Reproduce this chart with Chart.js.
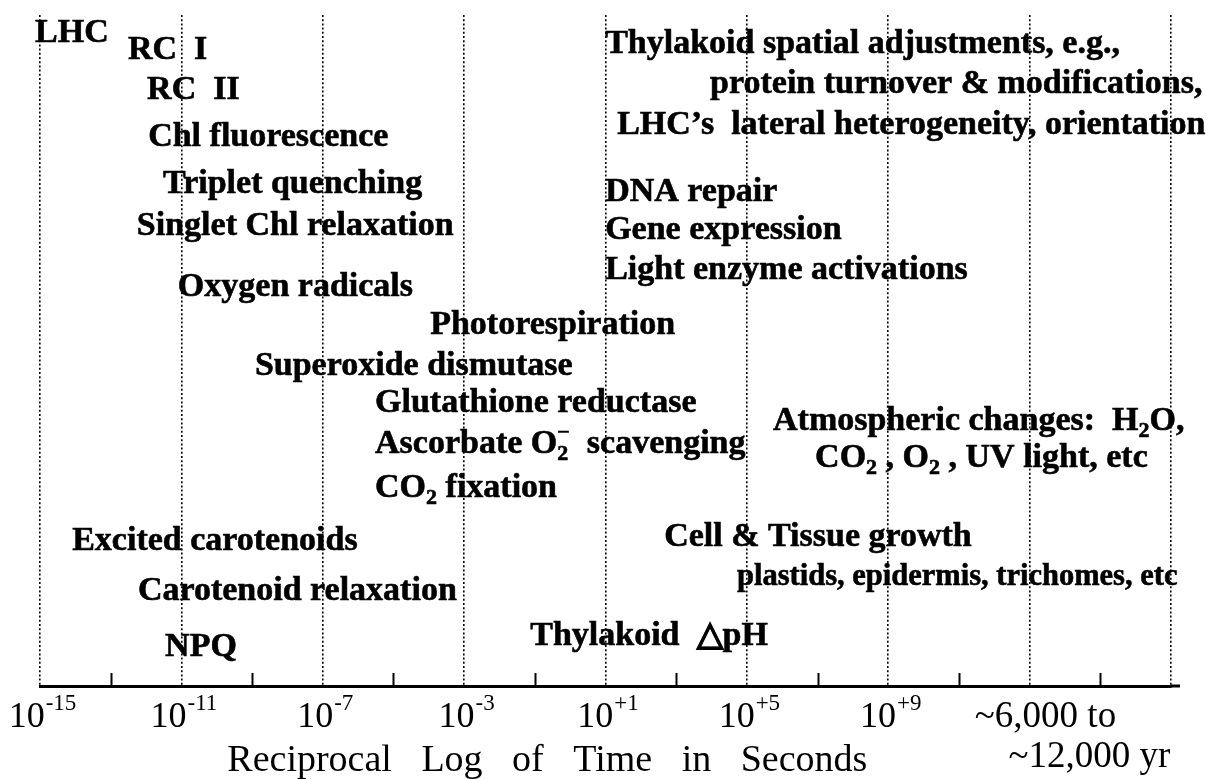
<!DOCTYPE html>
<html>
<head>
<meta charset="utf-8">
<script src="https://cdn.jsdelivr.net/npm/chart.js@4.4.1/dist/chart.umd.min.js"></script>
<style>
  html, body { margin: 0; padding: 0; background: #fff; }
</style>
</head>
<body>
<canvas id="chart" width="1224" height="780"></canvas>
<script>
// x = log10 of time in seconds (left edge of each label), y = row from top (0) down to the axis (100)
// "_" marks a subscript char, "^" a superscript char
const processNames = [
  'LHC', 'RC  I', 'RC  II', 'Chl fluorescence', 'Triplet quenching',
  'Singlet Chl relaxation', 'Oxygen radicals', 'Photorespiration', 'Superoxide dismutase',
  'Glutathione reductase', 'Ascorbate O_2^\u2212  scavenging', 'CO_2 fixation',
  'Excited carotenoids', 'Carotenoid relaxation', 'NPQ', 'Thylakoid  \u25B3pH',
  'Thylakoid spatial adjustments, e.g.,', 'protein turnover & modifications,',
  'LHC\u2019s  lateral heterogeneity, orientation', 'DNA repair', 'Gene expression',
  'Light enzyme activations', 'Atmospheric changes:  H_2O,', 'CO_2 , O_2 , UV light, etc',
  'Cell & Tissue growth', 'plastids, epidermis, trichomes, etc'
];
const processLogTime = [
  -15.14, -12.51, -11.97, -11.94, -11.52,
  -12.26, -11.10, -3.96, -8.92,
  -5.52, -5.52, -5.52,
  -14.09, -12.23, -11.46, -1.13,
  0.99, 3.96,
  1.33, 0.99, 0.99,
  0.99, 5.74, 6.93,
  2.66, 4.72
];
const processRow = [
  2.4, 4.9, 10.9, 17.9, 24.9,
  31.1, 40.2, 45.8, 52.0,
  57.5, 63.6, 70.2,
  78.1, 85.5, 93.9, 92.2,
  4.0, 10.0,
  16.1, 26.1, 31.7,
  37.7, 60.2, 65.7,
  77.5, 83.5
];

const majorTicks = [-15, -11, -7, -3, 1, 5, 9, 13, 17];
const minorTicks = [-13, -9, -5, -1, 3, 7, 11, 15];
const tickLabelValues = [-15, -11, -7, -3, 1, 5, 9];
const tickLabelExps = ['-15', '-11', '-7', '-3', '+1', '+5', '+9'];
const yearLabels = ['~6,000 to', '~12,000 yr'];
const yearLabelX = [11.45, 12.4];
const axisTitleWords = ['Reciprocal', 'Log', 'of', 'Time', 'in', 'Seconds'];
const axisTitleStart = -9.7;

const SERIF = '"Liberation Serif", "Times New Roman", serif';
const LABEL_SIZE = 34;
const smallerLabels = { 'plastids, epidermis, trichomes, etc': 30.5 };

// split "CO_2 fixation" into runs of normal / sub / sup text
function parseRich(text) {
  const runs = [];
  let buf = '';
  for (let i = 0; i < text.length; i++) {
    const ch = text[i];
    if ((ch === '_' || ch === '^') && i + 1 < text.length) {
      if (buf) { runs.push({ t: buf, k: 'n' }); buf = ''; }
      runs.push({ t: text[++i], k: ch === '_' ? 'sub' : 'sup' });
    } else {
      buf += ch;
    }
  }
  if (buf) runs.push({ t: buf, k: 'n' });
  return runs;
}

function ink(ctx, s, x, y) {
  ctx.fillText(s, x, y);
  ctx.strokeText(s, x, y); // thin stroke, the scan is a bit heavier
}

function drawRich(ctx, text, x, baseline, size, weight) {
  const big = `${weight} ${size}px ${SERIF}`;
  const small = `${weight} ${Math.round(size * 0.64)}px ${SERIF}`;
  let cx = x;
  let subStart = null, subEnd = null;
  parseRich(text).forEach(r => {
    if (r.k === 'n') {
      ctx.font = big;
      ink(ctx, r.t, cx, baseline);
      cx += ctx.measureText(r.t).width;
      subEnd = null;
    } else {
      ctx.font = small;
      const w = ctx.measureText(r.t).width;
      let sx = cx;
      if (r.k === 'sup' && subEnd === cx) sx = subStart; // stack over subscript
      const by = r.k === 'sub' ? baseline + size * 0.2 : baseline - size * 0.42;
      ink(ctx, r.t, sx, by);
      if (r.k === 'sub') { subStart = sx; subEnd = sx + w; cx = sx + w; }
      else { cx = Math.max(cx, sx + w); subEnd = null; }
    }
  });
}

const labelsPlugin = {
  id: 'processLabels',
  afterDatasetsDraw(chart) {
    const ctx = chart.ctx;
    const meta = chart.getDatasetMeta(0);
    ctx.save();
    ctx.fillStyle = '#000';
    ctx.strokeStyle = '#000';
    ctx.lineWidth = 0.6;
    ctx.textBaseline = 'alphabetic';
    ctx.textAlign = 'left';
    meta.data.forEach((pt, i) => {
      const size = smallerLabels[processNames[i]] || LABEL_SIZE;
      drawRich(ctx, processNames[i], pt.x, pt.y + size * 0.33, size, 'bold');
    });
    ctx.restore();
  }
};

const axisPlugin = {
  id: 'axisDecor',
  afterDraw(chart) {
    const ctx = chart.ctx;
    const xs = chart.scales.x;
    const bottom = chart.chartArea.bottom;
    ctx.save();
    ctx.strokeStyle = '#000';
    ctx.fillStyle = '#000';

    // axis runs a little past the last dotted line
    ctx.lineWidth = 3;
    ctx.beginPath();
    ctx.moveTo(chart.chartArea.right, bottom);
    ctx.lineTo(chart.chartArea.right + 9, bottom);
    ctx.stroke();

    // short ticks between the dotted lines, standing on the axis
    ctx.lineWidth = 2;
    minorTicks.forEach(v => {
      const px = Math.round(xs.getPixelForValue(v)) + 0.5;
      ctx.beginPath();
      ctx.moveTo(px, bottom);
      ctx.lineTo(px, bottom - 13);
      ctx.stroke();
    });

    // 10^n tick labels
    ctx.textBaseline = 'alphabetic';
    ctx.textAlign = 'left';
    tickLabelValues.forEach((v, i) => {
      ctx.font = `36px ${SERIF}`;
      const w1 = ctx.measureText('10').width;
      ctx.font = `23px ${SERIF}`;
      const w2 = ctx.measureText(tickLabelExps[i]).width;
      const x0 = xs.getPixelForValue(v) - (w1 + w2) / 2 + 2;
      ctx.font = `36px ${SERIF}`;
      ctx.fillText('10', x0, bottom + 41);
      ctx.font = `23px ${SERIF}`;
      ctx.fillText(tickLabelExps[i], x0 + w1 + 1, bottom + 24);
    });

    ctx.font = `37px ${SERIF}`;
    ctx.fillText(yearLabels[0], xs.getPixelForValue(yearLabelX[0]), bottom + 41);
    ctx.fillText(yearLabels[1], xs.getPixelForValue(yearLabelX[1]), bottom + 81);

    // axis title with wide word gaps
    ctx.font = `38px ${SERIF}`;
    let tx = xs.getPixelForValue(axisTitleStart);
    const gap = ctx.measureText('   ').width + 1;
    axisTitleWords.forEach(word => {
      ctx.fillText(word, tx, bottom + 85);
      tx += ctx.measureText(word).width + gap;
    });
    ctx.restore();
  }
};

new Chart(document.getElementById('chart'), {
  type: 'scatter',
  data: {
    datasets: [{
      data: processLogTime.map((x, i) => ({ x, y: processRow[i] })),
      pointRadius: 0,
      pointHoverRadius: 0,
      showLine: false
    }]
  },
  options: {
    responsive: false,
    animation: false,
    events: [],
    layout: { padding: { left: 40, right: 53, top: 15, bottom: 94 } },
    plugins: { legend: { display: false }, tooltip: { enabled: false } },
    scales: {
      x: {
        type: 'linear',
        min: -15,
        max: 17,
        afterBuildTicks: scale => { scale.ticks = majorTicks.map(v => ({ value: v })); },
        ticks: { display: false },
        grid: { color: '#000', lineWidth: 1.6, drawTicks: false },
        border: { display: true, color: '#000', width: 3, dash: [2, 2.2] }
      },
      y: {
        type: 'linear',
        min: 0,
        max: 100,
        reverse: true,
        display: false
      }
    }
  },
  plugins: [labelsPlugin, axisPlugin]
});
</script>
</body>
</html>
